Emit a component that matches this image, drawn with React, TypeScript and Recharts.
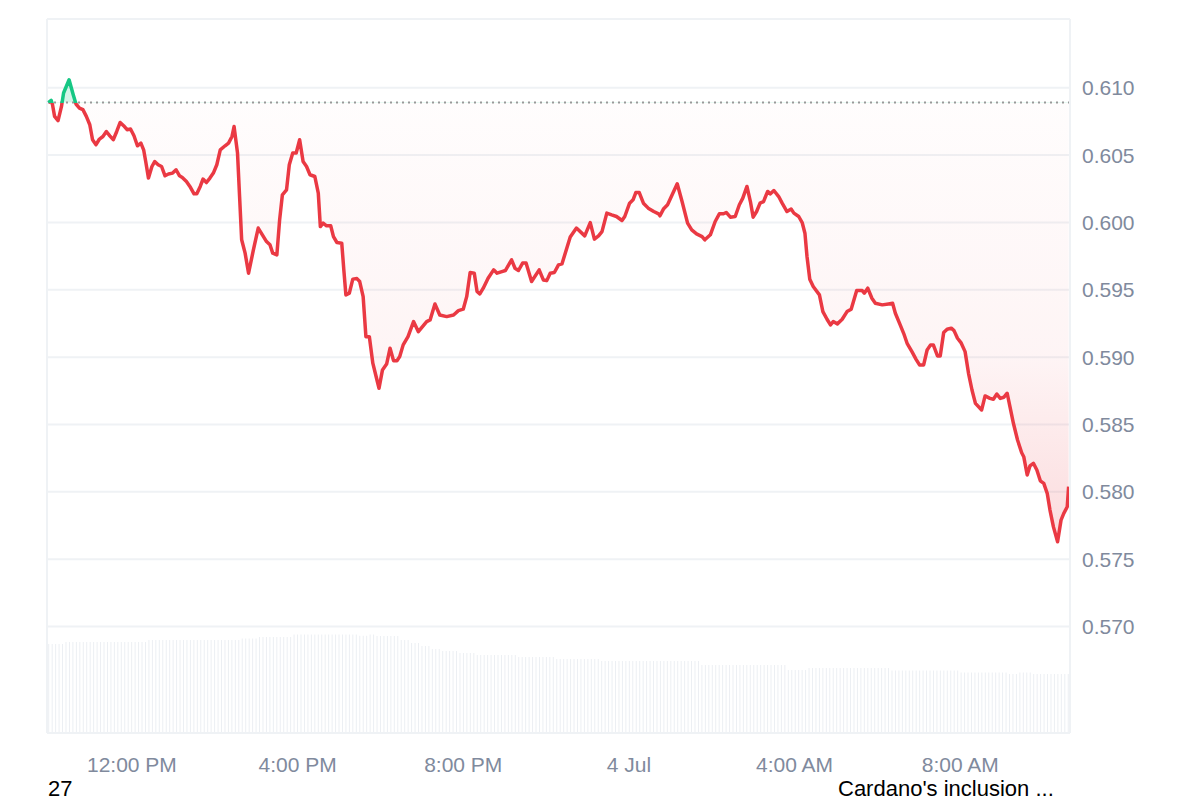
import { ComposedChart, BarChart, Bar, Area, Line, XAxis, YAxis, CartesianGrid, ReferenceLine } from 'recharts';

// minutes since midnight, 3 Jul
const TIME_MIN = [
  599, 603, 605, 608, 613, 618, 621, 629, 635, 639,
  644, 649, 654, 659, 663, 668, 673, 678, 683, 688,
  693, 698, 703, 708, 713, 718, 723, 728, 733, 737,
  740, 744, 749, 753, 758, 763, 768, 773, 779, 784,
  789, 793, 799, 804, 810, 814, 819, 823, 828, 833,
  838, 843, 848, 855, 860, 865, 868, 873, 876, 879,
  884, 889, 896, 903, 909, 915, 920, 924, 930, 934,
  938, 944, 948, 953, 958, 963, 968, 973, 978, 985,
  990, 993, 997, 1002, 1008, 1012, 1017, 1024, 1027, 1030,
  1035, 1040, 1046, 1050, 1055, 1059, 1064, 1069, 1075, 1078,
  1083, 1089, 1094, 1099, 1104, 1108, 1113, 1120, 1128, 1135,
  1147, 1152, 1159, 1166, 1176, 1186, 1193, 1200, 1205, 1210,
  1216, 1220, 1224, 1229, 1236, 1244, 1249, 1256, 1261, 1270,
  1275, 1280, 1286, 1291, 1299, 1310, 1316, 1321, 1326, 1332,
  1338, 1343, 1355, 1364, 1376, 1384, 1390, 1396, 1401, 1408,
  1415, 1422, 1430, 1434, 1441, 1446, 1450, 1455, 1461, 1468,
  1476, 1483, 1485, 1490, 1496, 1502, 1510, 1517, 1525, 1531,
  1538, 1546, 1550, 1558, 1565, 1571, 1577, 1581, 1587, 1594,
  1600, 1605, 1611, 1616, 1620, 1625, 1630, 1635, 1641, 1645,
  1650, 1657, 1662, 1669, 1675, 1679, 1686, 1691, 1695, 1698,
  1702, 1707, 1716, 1721, 1727, 1732, 1736, 1742, 1749, 1756,
  1762, 1770, 1778, 1781, 1786, 1792, 1797, 1807, 1816, 1822,
  1826, 1833, 1838, 1843, 1850, 1856, 1861, 1867, 1872, 1877,
  1881, 1887, 1891, 1896, 1901, 1907, 1911, 1916, 1921, 1927,
  1932, 1937, 1942, 1951, 1956, 1963, 1968, 1973, 1978, 1983,
  1988, 1992, 1997, 2003, 2009, 2012, 2017, 2021, 2026, 2031,
  2036, 2041, 2046, 2050, 2055, 2061, 2066, 2070, 2075, 2077,
];

const PRICE = [
  0.6089, 0.60906, 0.60874, 0.60787, 0.60755, 0.60861, 0.60961, 0.61059, 0.60948, 0.60879,
  0.60849, 0.60837, 0.60787, 0.60725, 0.60614, 0.60577, 0.60619, 0.60638, 0.60675, 0.60643,
  0.60614, 0.60675, 0.60742, 0.60718, 0.60688, 0.60693, 0.60643, 0.60569, 0.60589, 0.60539,
  0.60452, 0.60329, 0.60415, 0.60452, 0.60428, 0.60415, 0.60346, 0.60359, 0.60366, 0.60391,
  0.60346, 0.60334, 0.60304, 0.60267, 0.60212, 0.60212, 0.60267, 0.60322, 0.60296, 0.60329,
  0.60366, 0.60428, 0.60539, 0.60569, 0.60589, 0.60638, 0.60712, 0.60515, 0.60192, 0.59871,
  0.59772, 0.59623, 0.59796, 0.59958, 0.59908, 0.59858, 0.59834, 0.59772, 0.59759, 0.60019,
  0.60205, 0.60242, 0.60428, 0.60515, 0.60515, 0.60614, 0.60452, 0.60415, 0.60354, 0.60341,
  0.60218, 0.59969, 0.59995, 0.59975, 0.59975, 0.59895, 0.59851, 0.59846, 0.59648, 0.59462,
  0.59475, 0.59579, 0.59583, 0.59561, 0.59449, 0.59152, 0.59152, 0.58955, 0.5883, 0.58769,
  0.58905, 0.58949, 0.59066, 0.58974, 0.58974, 0.59004, 0.59091, 0.59152, 0.59264, 0.59189,
  0.59264, 0.59276, 0.59395, 0.59313, 0.59301, 0.59313, 0.59345, 0.59356, 0.59449, 0.59628,
  0.59623, 0.59487, 0.59469, 0.59512, 0.59586, 0.59648, 0.59623, 0.59635, 0.59643, 0.59722,
  0.5966, 0.59643, 0.59698, 0.59698, 0.59561, 0.59648, 0.59573, 0.59568, 0.59623, 0.59628,
  0.59685, 0.59692, 0.59891, 0.59958, 0.599, 0.59999, 0.59876, 0.599, 0.59932, 0.60069,
  0.60056, 0.60044, 0.60014, 0.60044, 0.60143, 0.60168, 0.60222, 0.60222, 0.60143, 0.60106,
  0.60081, 0.60064, 0.60049, 0.60099, 0.60131, 0.60198, 0.60287, 0.60155, 0.59995, 0.59945,
  0.59915, 0.59895, 0.59871, 0.59908, 0.60007, 0.60064, 0.60064, 0.60074, 0.60039, 0.60044,
  0.60131, 0.6018, 0.60267, 0.60155, 0.60039, 0.60081, 0.60143, 0.60155, 0.6023, 0.60212,
  0.60237, 0.60192, 0.60143, 0.60081, 0.60099, 0.60069, 0.60044, 0.59999, 0.5992, 0.59747,
  0.59579, 0.59524, 0.59462, 0.59338, 0.59281, 0.59239, 0.59264, 0.59247, 0.59281, 0.59338,
  0.59356, 0.59494, 0.59494, 0.59475, 0.59512, 0.59437, 0.594, 0.59388, 0.59395, 0.594,
  0.59326, 0.59239, 0.59177, 0.59103, 0.59041, 0.58984, 0.58942, 0.58942, 0.59053, 0.59091,
  0.59091, 0.59009, 0.59009, 0.59182, 0.59207, 0.59215, 0.59197, 0.5914, 0.59108, 0.59041,
  0.5888, 0.58756, 0.58657, 0.58608, 0.58712, 0.58694, 0.58687, 0.58726, 0.58694, 0.58702,
  0.58732, 0.58632, 0.58509, 0.58385, 0.5829, 0.58261, 0.58125, 0.58192, 0.58212, 0.58162,
  0.58082, 0.58063, 0.57989, 0.57865, 0.5774, 0.57629, 0.5779, 0.5784, 0.57889, 0.58038,
];

const REF_PRICE = 0.6089;
const PRICE_TICKS = [0.57, 0.575, 0.58, 0.585, 0.59, 0.595, 0.6, 0.605, 0.61];
const TIME_TICKS = [720, 960, 1200, 1440, 1680, 1920];
const TIME_LABELS = ['12:00 PM', '4:00 PM', '8:00 PM', '4 Jul', '4:00 AM', '8:00 AM'];

// 24h volume (millions), read as [value, number of 5-min bars]
const VOLUME_RUNS: [number, number][] = [
  [445, 5], [455, 24], [465, 27], [472, 5], [480, 10], [492, 19], [486, 3], [492, 2],
  [485, 7], [465, 3], [450, 3], [435, 3], [420, 3], [410, 5], [400, 5], [390, 12],
  [380, 11], [370, 13], [360, 29], [340, 25], [315, 6], [325, 24], [312, 20], [303, 14],
  [295, 3], [303, 4], [295, 11],
];

const NOTES = ['27', "Cardano's inclusion ..."];

const GREEN = '#16c784';
const RED = '#ea3943';
const GRID = '#eff2f5';
const AXIS_TEXT = '#808a9d';
const FONT = '"Liberation Sans", Arial, sans-serif';

const priceData = TIME_MIN.map((t, i) => ({ t, p: PRICE[i] }));
const volumeData = VOLUME_RUNS.flatMap(([v, n]) => Array.from({ length: n }, () => ({ v })));

const maxP = Math.max(...PRICE);
const minP = Math.min(...PRICE);
const splitAt = (maxP - REF_PRICE) / (maxP - minP);

export default function App() {
  const tickStyle = { fill: AXIS_TEXT, fontSize: 21, fontFamily: FONT };
  return (
    <div style={{ position: 'relative', width: 1200, height: 800, background: '#fff' }}>
      <style>{'body{margin:0}'}</style>
      <div style={{ position: 'absolute', left: 0, top: 0 }}>
        <BarChart
          width={1200}
          height={800}
          data={volumeData}
          margin={{ top: 19, right: 130, bottom: 67, left: 47 }}
          barCategoryGap="35%"
        >
          <XAxis hide />
          <YAxis hide domain={[0, 3570]} />
          <Bar dataKey="v" fill="#eceff3" isAnimationActive={false} />
        </BarChart>
      </div>
      <div style={{ position: 'absolute', left: 0, top: 0 }}>
        <ComposedChart
          width={1200}
          height={800}
          data={priceData}
          margin={{ top: 19, right: 0, bottom: 0, left: 47 }}
        >
          <defs>
            <linearGradient id="lineGrad" x1="0" y1="0" x2="0" y2="1">
              <stop offset={0} stopColor={GREEN} />
              <stop offset={splitAt} stopColor={GREEN} />
              <stop offset={splitAt} stopColor={RED} />
              <stop offset={1} stopColor={RED} />
            </linearGradient>
            <linearGradient id="fillGrad" x1="0" y1="0" x2="0" y2="1">
              <stop offset={0} stopColor={GREEN} stopOpacity={0.3} />
              <stop offset={splitAt} stopColor={GREEN} stopOpacity={0.3} />
              <stop offset={splitAt} stopColor={RED} stopOpacity={0.02} />
              <stop offset={0.6} stopColor={RED} stopOpacity={0.09} />
              <stop offset={1} stopColor={RED} stopOpacity={0.3} />
            </linearGradient>
          </defs>
          <CartesianGrid vertical={false} stroke={GRID} strokeWidth={2} />
          <XAxis
            dataKey="t"
            type="number"
            domain={[597, 2079]}
            ticks={TIME_TICKS}
            interval={0}
            tickFormatter={(t: number) => TIME_LABELS[TIME_TICKS.indexOf(t)]}
            height={67}
            tickLine={false}
            tickMargin={18}
            axisLine={{ stroke: GRID, strokeWidth: 2 }}
            tick={tickStyle}
          />
          <YAxis
            orientation="right"
            domain={[0.5621, 0.6151]}
            ticks={PRICE_TICKS}
            interval={0}
            tickFormatter={(v: number) => v.toFixed(3)}
            width={130}
            tickLine={false}
            tickMargin={6}
            axisLine={{ stroke: GRID, strokeWidth: 2 }}
            tick={tickStyle}
          />
          <ReferenceLine y={0.6151} stroke={GRID} strokeWidth={2} />
          <ReferenceLine x={597} stroke={GRID} strokeWidth={2} />
          <Area
            type="linear"
            dataKey="p"
            baseValue={REF_PRICE}
            stroke="none"
            fill="url(#fillGrad)"
            isAnimationActive={false}
          />
          <ReferenceLine y={REF_PRICE} stroke="#999" strokeWidth={2} strokeDasharray="2 4" />
          <Line
            type="linear"
            dataKey="p"
            stroke="url(#lineGrad)"
            strokeWidth={3.5}
            strokeLinejoin="round"
            dot={false}
            activeDot={false}
            isAnimationActive={false}
          />
        </ComposedChart>
      </div>
      <svg width={1200} height={800} style={{ position: 'absolute', left: 0, top: 0, pointerEvents: 'none' }}>
        <text x={48} y={796} fontSize={22} fontFamily={FONT} fill="#000">{NOTES[0]}</text>
        <text x={838} y={796} fontSize={22} fontFamily={FONT} fill="#000">{NOTES[1]}</text>
      </svg>
    </div>
  );
}
